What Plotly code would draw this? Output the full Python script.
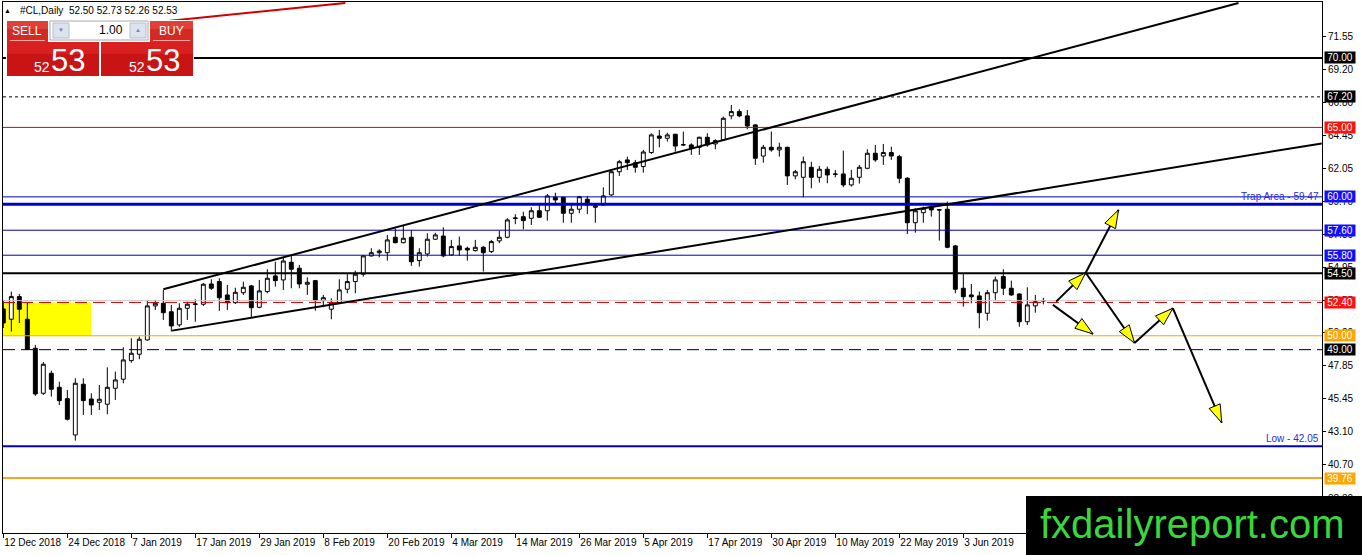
import math
import plotly.graph_objects as go

# daily bars of #CL, first bar = 12 Dec 2018
opens = [51.93, 51.19, 52.82, 51.19, 49.10, 45.86, 47.30, 46.29, 45.47, 42.86,
         46.51, 45.45, 45.21, 45.07, 46.22, 46.87, 48.21, 48.67, 49.70, 52.15,
         52.34, 51.73, 50.78, 51.98, 52.25, 52.27, 53.73, 53.90, 52.94, 52.38,
         53.10, 53.59, 52.05, 53.18, 54.31, 54.02, 55.29, 54.86, 53.71, 53.97,
         52.53, 51.91, 52.38, 53.35, 53.90, 54.43, 55.75, 55.98, 55.98, 57.09,
         56.70, 57.09, 55.41, 55.89, 56.95, 57.18, 55.82, 56.47, 56.30, 56.13,
         56.37, 56.06, 56.83, 57.09, 58.44, 58.57, 58.46, 59.00, 59.00, 59.97,
         59.97, 58.82, 59.11, 59.83, 59.25, 59.42, 60.14, 61.81, 62.66, 62.46,
         62.18, 63.19, 64.38, 64.22, 64.51, 63.76, 63.74, 63.57, 64.29, 63.81,
         64.10, 65.83, 66.14, 65.83, 65.18, 62.94, 63.57, 63.38, 63.57, 61.51,
         61.41, 62.13, 61.41, 61.99, 61.65, 61.65, 60.86, 61.41, 62.06, 63.14,
         62.94, 63.19, 62.90, 61.34, 58.14, 58.86, 59.30, 59.08, 59.11, 56.47,
         53.42, 52.94, 52.87, 51.62, 53.10, 54.26, 53.42, 53.01, 51.01, 52.15,
         52.50]
highs = [52.58, 53.18, 53.01, 52.36, 49.34, 48.11, 47.49, 46.69, 46.10, 46.94,
         46.94, 45.86, 46.46, 47.73, 47.42, 49.18, 49.82, 49.94, 52.53, 52.58,
         53.30, 52.22, 52.34, 52.45, 52.63, 53.80, 54.07, 54.14, 53.66, 53.46,
         53.90, 53.66, 54.02, 54.79, 55.33, 55.65, 55.82, 55.10, 54.21, 54.02,
         52.94, 52.70, 54.07, 54.50, 54.69, 55.82, 56.30, 56.23, 57.26, 57.74,
         57.90, 57.62, 56.30, 57.38, 57.42, 57.81, 56.90, 57.14, 56.42, 56.90,
         56.47, 56.90, 57.57, 58.46, 58.75, 58.93, 59.25, 59.42, 60.21, 60.30,
         60.01, 59.42, 60.07, 60.07, 59.54, 60.69, 61.99, 62.66, 62.90, 62.66,
         63.38, 64.58, 64.82, 64.62, 64.53, 64.70, 63.86, 64.33, 64.58, 64.15,
         65.78, 66.62, 66.31, 66.26, 65.25, 63.74, 64.70, 63.90, 63.61, 61.94,
         62.90, 62.53, 62.23, 62.18, 61.94, 63.33, 61.94, 62.30, 63.43, 63.74,
         63.81, 63.61, 63.02, 61.43, 59.18, 59.30, 59.49, 59.13, 59.66, 56.54,
         54.45, 53.73, 53.18, 53.30, 54.26, 54.79, 53.97, 53.06, 53.49, 52.94,
         52.73]
lows = [50.56, 50.30, 50.92, 48.98, 45.67, 45.74, 45.62, 45.02, 43.90, 42.45,
        44.30, 44.30, 44.66, 44.35, 45.38, 46.58, 48.06, 48.31, 49.65, 51.86,
        51.14, 50.30, 50.65, 51.14, 51.01, 52.15, 53.30, 51.79, 51.86, 52.29,
        52.94, 51.33, 51.98, 53.06, 53.54, 53.30, 53.42, 53.42, 52.94, 51.81,
        52.15, 51.19, 52.34, 53.06, 53.06, 54.26, 55.70, 55.65, 55.41, 56.66,
        56.66, 55.03, 54.98, 55.70, 56.90, 55.65, 55.75, 55.75, 55.41, 56.06,
        54.62, 55.96, 56.66, 57.02, 58.03, 57.66, 57.98, 58.50, 58.29, 59.54,
        58.14, 58.14, 58.82, 58.77, 58.14, 59.35, 60.07, 61.51, 61.94, 61.74,
        61.74, 63.09, 63.57, 63.98, 63.25, 63.66, 63.02, 63.02, 63.61, 63.43,
        64.05, 65.59, 65.73, 64.87, 62.30, 62.46, 63.25, 62.90, 60.86, 61.27,
        59.97, 60.62, 61.03, 60.98, 61.41, 60.69, 60.74, 60.96, 61.99, 62.53,
        62.30, 62.66, 60.98, 57.33, 57.42, 58.14, 58.58, 56.85, 56.30, 53.06,
        52.10, 52.34, 50.54, 51.09, 52.58, 52.94, 52.87, 50.65, 50.78, 51.66,
        52.26]
closes = [50.92, 52.82, 51.91, 49.03, 45.81, 47.95, 46.15, 45.33, 43.99, 46.58,
          45.33, 45.02, 45.43, 46.29, 46.82, 48.26, 48.74, 49.75, 52.15, 52.34,
          51.66, 50.71, 51.98, 52.27, 52.29, 53.71, 53.42, 52.74, 52.38, 53.13,
          53.49, 52.02, 53.23, 54.14, 53.97, 55.38, 54.79, 53.73, 53.85, 52.53,
          52.74, 52.38, 53.30, 53.90, 54.43, 55.75, 55.98, 56.10, 56.90, 56.70,
          57.02, 55.33, 55.98, 56.95, 57.26, 55.75, 56.42, 56.18, 56.18, 56.37,
          55.98, 56.78, 57.09, 58.34, 58.48, 58.29, 59.00, 58.53, 60.07, 59.78,
          58.82, 59.11, 60.01, 59.42, 59.37, 60.07, 61.81, 62.53, 62.46, 62.13,
          63.23, 64.46, 64.22, 64.46, 63.66, 63.74, 63.50, 64.29, 63.74, 64.05,
          65.66, 66.14, 65.83, 65.10, 62.78, 63.57, 63.38, 63.57, 61.51, 61.81,
          62.53, 61.41, 61.99, 61.58, 61.63, 60.86, 61.34, 62.13, 63.14, 62.66,
          63.19, 62.94, 61.34, 58.14, 59.00, 59.18, 59.06, 59.06, 56.37, 53.35,
          52.81, 52.81, 51.66, 53.10, 54.02, 53.42, 52.94, 51.01, 52.22, 52.46,
          52.53]

date_labels = ["12 Dec 2018", "24 Dec 2018", "7 Jan 2019", "17 Jan 2019", "29 Jan 2019",
               "8 Feb 2019", "20 Feb 2019", "4 Mar 2019", "14 Mar 2019", "26 Mar 2019",
               "5 Apr 2019", "17 Apr 2019", "30 Apr 2019", "10 May 2019", "22 May 2019",
               "3 Jun 2019"]
label_every = 8  # a date label every 8 bars

price_ticks = [71.55, 69.20, 66.80, 64.45, 62.05, 59.70, 57.30, 54.95, 52.55,
               50.20, 47.85, 45.45, 43.10, 40.70, 38.30]

# horizontal levels drawn on the chart
level_prices = [70.00, 67.20, 65.00, 60.00, 59.47, 57.60, 55.80, 54.50,
                52.40, 50.00, 49.00, 42.05, 39.76]
boxed_levels = [70.00, 67.20, 65.00, 60.00, 57.60, 55.80, 54.50, 52.40, 50.00, 49.00, 39.76]
trap_level = 59.47
low_level = 42.05
last_price = closes[-1]

# yellow zone (bar range, price range)
zone_bars = [-1, 11]
zone_prices = [50.00, 52.40]

# trend lines as (bar, price) pairs
channel_upper = [(20.0, 53.35), (154.4, 73.96)]
channel_lower = [(21.1, 50.37), (164.8, 63.85)]
old_trend = [(18.4, 72.53), (42.75, 73.96)]

# forecast arrows, the head sits on the second point
arrow_legs = [
    [(131.6, 52.46), (135.3, 54.54)],
    [(135.3, 54.54), (139.4, 59.06)],
    [(131.2, 52.22), (136.2, 50.13)],
    [(135.3, 54.54), (141.4, 49.48)],
    [(141.4, 49.48), (146.2, 51.98)],
    [(146.2, 51.98), (152.3, 43.74)],
]

# ---------------- layout geometry ----------------
W, H = 1362, 555
L, R, T, B = 3, 1322, 2, 533
PX_BAR = 8.0
X0 = -0.04
X1 = X0 + (R - L) / PX_BAR
Y_TOP, Y_BOT = 74.03, 35.80
PX_PRICE = (B - T) / (Y_TOP - Y_BOT)

FONT = "Liberation Sans"


def pxx(x):
    return (x - L) / (R - L)


def pxy(y):
    return (B - y) / (B - T)


level_style = {
    70.00: ("#000000", 2, "solid"),
    67.20: ("#000000", 1, "dot"),
    65.00: ("#e00000", 1, "solid"),
    60.00: ("#0000b4", 1, "solid"),
    59.47: ("#0000c8", 3, "solid"),
    57.60: ("#0000b4", 1, "solid"),
    55.80: ("#0000b4", 1, "solid"),
    54.50: ("#000000", 2, "solid"),
    52.40: ("#d00000", 1, "12px,6px"),
    50.00: ("#ffa500", 1, "solid"),
    49.00: ("#000000", 1, "12px,6px"),
    42.05: ("#0000c8", 2, "solid"),
    39.76: ("#f5a623", 2, "solid"),
}
box_color = {70.00: "#000000", 67.20: "#000000", 65.00: "#ff1010", 60.00: "#1010ff",
             57.60: "#1010ff", 55.80: "#1010ff", 54.50: "#000000", 52.40: "#ff1010",
             50.00: "#ffa500", 49.00: "#000000", 39.76: "#ffa500"}

bars = list(range(len(opens)))

fig = go.Figure()
fig.add_trace(go.Candlestick(
    x=bars, open=opens, high=highs, low=lows, close=closes,
    increasing=dict(line=dict(color="black", width=1), fillcolor="white"),
    decreasing=dict(line=dict(color="black", width=1), fillcolor="black"),
    whiskerwidth=0, showlegend=False, hoverinfo="skip",
))

shapes = []
shapes.append(dict(type="rect", xref="x", yref="y", layer="below",
                   x0=zone_bars[0], x1=zone_bars[1], y0=zone_prices[0], y1=zone_prices[1],
                   fillcolor="#ffff00", line=dict(width=0)))

shapes.append(dict(type="line", xref="paper", yref="y", x0=0, x1=1,
                   y0=last_price, y1=last_price, line=dict(color="#c8c8c8", width=1)))
for p in level_prices:
    c, w, d = level_style[p]
    shapes.append(dict(type="line", xref="paper", yref="y", x0=0, x1=1, y0=p, y1=p,
                       line=dict(color=c, width=w, dash=d)))

for (a, b), col in [(channel_upper, "black"), (channel_lower, "black"), (old_trend, "#d00000")]:
    shapes.append(dict(type="line", xref="x", yref="y", x0=a[0], y0=a[1], x1=b[0], y1=b[1],
                       line=dict(color=col, width=2)))


def head_path(p0, p1, length=18, half=6):
    dx = (p1[0] - p0[0]) * PX_BAR
    dy = (p1[1] - p0[1]) * PX_PRICE
    n = math.hypot(dx, dy)
    ux, uy = dx / n, dy / n
    bx, by = -length * ux, -length * uy
    pts = [(0, 0), (bx - half * uy, by + half * ux), (bx + half * uy, by - half * ux)]
    coords = [(p1[0] + qx / PX_BAR, p1[1] + qy / PX_PRICE) for qx, qy in pts]
    return "M {} {} L {} {} L {} {} Z".format(*[v for c in coords for v in c])


for p0, p1 in arrow_legs:
    shapes.append(dict(type="line", xref="x", yref="y", x0=p0[0], y0=p0[1], x1=p1[0], y1=p1[1],
                       line=dict(color="black", width=2)))
for p0, p1 in arrow_legs:
    shapes.append(dict(type="path", xref="x", yref="y", path=head_path(p0, p1),
                       fillcolor="#ffff00", line=dict(color="black", width=1)))


def rect(x0, y0, x1, y1, fill, line_color=None, lw=1):
    shapes.append(dict(type="rect", xref="paper", yref="paper",
                       x0=pxx(x0), x1=pxx(x1), y0=pxy(y1), y1=pxy(y0),
                       fillcolor=fill, line=dict(color=line_color or fill, width=lw if line_color else 0)))


# trading panel, top left
rect(6, 20, 194, 77, "white")
rect(7, 21, 48, 42, "#d42a22")
rect(7, 21, 48, 29, "#e04038")
rect(50, 21, 148, 40, "white", "#a8a8a8")
rect(53, 23, 69, 38, "#dde3ee", "#b4bccc")
rect(130, 23, 146, 38, "#dde3ee", "#b4bccc")
rect(150, 21, 193, 42, "#d42a22")
rect(150, 21, 193, 29, "#e04038")
rect(7, 42, 99, 76, "#c81414")
rect(7, 42, 99, 54, "#d82020")
rect(101, 42, 193, 76, "#c81414")
rect(101, 42, 193, 54, "#d82020")
shapes.append(dict(type="line", xref="paper", yref="paper", x0=pxx(10), x1=pxx(45),
                   y0=pxy(40.5), y1=pxy(40.5), line=dict(color="#f0a0a0", width=1)))
shapes.append(dict(type="line", xref="paper", yref="paper", x0=pxx(153), x1=pxx(190),
                   y0=pxy(40.5), y1=pxy(40.5), line=dict(color="#f0a0a0", width=1)))

# watermark box
rect(1026, 496, 1362, 555, "#000000")

ann = []


def text(x, y, s, size, color="black", anchor="center"):
    ann.append(dict(x=pxx(x), y=pxy(y), xref="paper", yref="paper", text=s, showarrow=False,
                    xanchor=anchor, yanchor="middle", font=dict(family=FONT, size=size, color=color)))


text(7, 10, "▲", 7)
text(18, 10, "#CL,Daily  {:.2f} {:.2f} {:.2f} {:.2f}".format(opens[-1], highs[-1], lows[-1], closes[-1]),
     10, anchor="left")
text(27, 31, "SELL", 12, "white")
text(171, 31, "BUY", 12, "white")
text(125, 30, "1.00", 12, anchor="right")
text(61, 30, "▼", 6, "#7088a8")
text(138, 30, "▲", 6, "#7088a8")
bid = "{:.2f}".format(closes[-1])
text(41.5, 67, bid[:2], 14, "white")
text(68, 60, bid[3:], 31, "white")
text(136.5, 67, bid[:2], 14, "white")
text(163, 60, bid[3:], 31, "white")
text(1192, 524, "fxdailyreport.com", 40, "#3ad63a")

for p in boxed_levels:
    ann.append(dict(x=1, y=p, xref="paper", yref="y", xanchor="left", yanchor="middle", xshift=2,
                    text="{:.2f}".format(p), showarrow=False, bgcolor=box_color[p],
                    width=30, height=11, borderpad=0,
                    font=dict(family=FONT, size=10, color="white")))

ann.append(dict(x=1, y=trap_level, xref="paper", yref="y", xanchor="right", yanchor="bottom",
                xshift=-1, text="Trap Area - {:.2f}".format(trap_level), showarrow=False,
                font=dict(family=FONT, size=10, color="#2a2ae0")))
ann.append(dict(x=1, y=low_level, xref="paper", yref="y", xanchor="right", yanchor="bottom",
                xshift=-1, text="Low - {:.2f}".format(low_level), showarrow=False,
                font=dict(family=FONT, size=10, color="#2a2ae0")))

fig.update_layout(
    width=W, height=H,
    margin=dict(l=L, r=W - R, t=T, b=H - B, autoexpand=False),
    paper_bgcolor="white", plot_bgcolor="white",
    font=dict(family=FONT, size=10, color="black"),
    shapes=shapes, annotations=ann,
    showlegend=False,
    xaxis=dict(range=[X0, X1], showgrid=False, zeroline=False, showline=True, mirror=True,
               linecolor="black", linewidth=1, ticks="outside", ticklen=4, tickcolor="black",
               tickvals=[i * label_every for i in range(len(date_labels))], ticktext=date_labels,
               ticklabelposition="outside right", tickangle=0, rangeslider=dict(visible=False),
               tickfont=dict(family=FONT, size=10)),
    yaxis=dict(range=[Y_BOT, Y_TOP], side="right", showgrid=False, zeroline=False, showline=True,
               mirror=True, linecolor="black", linewidth=1, ticks="outside", ticklen=3,
               tickcolor="black", tickvals=price_ticks,
               ticktext=["{:.2f}".format(v) for v in price_ticks],
               tickfont=dict(family=FONT, size=10)),
)

# the page gets the browser's default 8px body margin, remove it so the chart fills the window
fig.write_html("out.html", config={"displayModeBar": False},
               post_script="document.body.style.margin='0';")
